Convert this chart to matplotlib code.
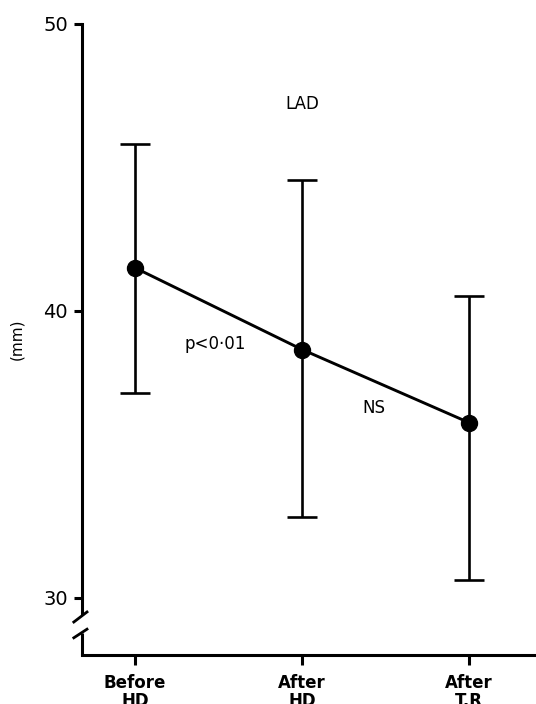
import matplotlib
matplotlib.use("Agg")
import matplotlib.pyplot as plt

# === DONNÉES ===
groups = ["Before\nHD", "After\nHD", "After\nT.R"]
means = [41.5, 38.65, 36.1]
upper = [45.8, 44.55, 40.5]
lower = [37.15, 32.8, 30.6]
y_ticks = [30, 40, 50]

annotations = [("LAD", 1.0, 47.2), ("p<0·01", 0.48, 38.85), ("NS", 1.43, 36.6)]

plt.rcParams['font.family'] = ['DejaVu Sans']

fig = plt.figure(figsize=(5.36, 7.04), dpi=100)
ax = fig.add_axes([82 / 536, 1 - 655 / 704, 1 - 82 / 536, (655 - 24) / 704])

x = list(range(len(groups)))
yerr = [[m - lo for m, lo in zip(means, lower)], [up - m for m, up in zip(means, upper)]]

ax.errorbar(x, means, yerr=yerr, fmt='none', ecolor='black', elinewidth=1.9,
            capsize=11, capthick=1.9, zorder=2)
ax.plot(x, means, color='black', linewidth=2.1, marker='o', markersize=11.5, zorder=3)

for txt, xx, yy in annotations:
    ax.text(xx, yy, txt, ha='center', va='center', fontsize=12)

ax.set_xlim(-0.317, 2.40)
ax.set_ylim(28, 50)
ax.set_yticks(y_ticks)
ax.set_yticklabels([str(t) for t in y_ticks], fontsize=14)
ax.set_xticks(x)
ax.set_xticklabels(groups, fontsize=12, fontweight='semibold', linespacing=1.0)
ax.tick_params(axis='y', direction='out', length=6, width=2.2, pad=4)
ax.tick_params(axis='x', direction='out', length=7, width=2.2, pad=7)
ax.set_ylabel("(mm)", fontsize=11, labelpad=14)

for s in ['top', 'right']:
    ax.spines[s].set_visible(False)
ax.spines['bottom'].set_linewidth(2.2)
ax.spines['left'].set_linewidth(2.2)
ax.spines['left'].set_bounds(29.45, 50)

# === CASSURE DE L'AXE ===
tr = ax.get_yaxis_transform()
ax.plot([0.011, -0.018], [29.5, 29.15], transform=tr, color='black', lw=2.0, clip_on=False)
ax.plot([0.011, -0.018], [28.9, 28.6], transform=tr, color='black', lw=2.0, clip_on=False)
ax.plot([0, 0], [28, 28.75], transform=tr, color='black', lw=2.2, clip_on=False,
        solid_capstyle='butt')

fig.savefig("out.png", dpi=100)
